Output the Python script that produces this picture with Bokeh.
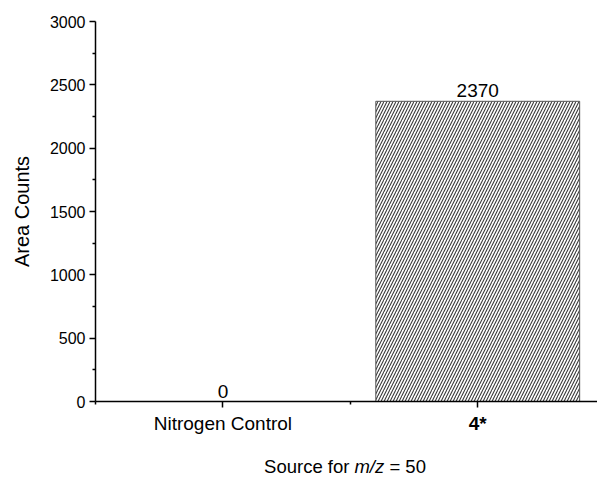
from bokeh.plotting import figure
from bokeh.layouts import column
from bokeh.models import Range1d, FixedTicker, ColumnDataSource
from bokeh.core.properties import value
from bokeh.embed import file_html
from bokeh.resources import INLINE

# data
categories = ["Nitrogen Control", "4*"]
category_styles = ["normal", "bold"]
positions = [1, 2]
area_counts = [0, 2370]
y_ticks = [0, 500, 1000, 1500, 2000, 2500, 3000]
y_minor = [250, 750, 1250, 1750, 2250, 2750]

FONT = "Liberation Sans"
xr = Range1d(0.5, 2.47)

p = figure(width=597, height=410, output_backend="svg", toolbar_location=None,
           x_range=xr, y_range=Range1d(0, 3000),
           min_border_left=95, min_border_right=0, min_border_top=21,
           min_border_bottom=9)
p.outline_line_color = None
p.xgrid.visible = False
p.ygrid.visible = False

src = ColumnDataSource(dict(x=positions, top=area_counts,
                            lbl=[str(v) for v in area_counts]))
p.vbar(x="x", top="top", width=0.8, source=src, fill_color="white",
       line_color="#555555", line_width=1,
       hatch_pattern="/", hatch_color="#3a3a3a", hatch_scale=6,
       hatch_weight=1.1)
p.text(x="x", y="top", text="lbl", source=src, text_align="center",
       text_baseline="bottom", y_offset=-4,
       text_font=value(FONT), text_font_size="19px", text_color="black")

# y axis
ya = p.yaxis[0]
ya.ticker = FixedTicker(ticks=y_ticks, minor_ticks=y_minor)
ya.major_label_text_font = FONT
ya.major_label_text_font_size = "16px"
ya.major_label_text_color = "black"
ya.axis_line_color = "black"
ya.axis_line_width = 1.5
ya.major_tick_line_width = 1.5
ya.minor_tick_line_width = 1.5
ya.major_tick_in = 0
ya.major_tick_out = 6
ya.minor_tick_in = 0
ya.minor_tick_out = 3
ya.major_label_standoff = 4
ya.axis_label = "Area Counts"
ya.axis_label_text_font = FONT
ya.axis_label_text_font_size = "20px"
ya.axis_label_text_font_style = "normal"
ya.axis_label_text_color = "black"
ya.axis_label_standoff = 14

# x axis (labels drawn in the panel below)
xa = p.xaxis[0]
xa.ticker = FixedTicker(ticks=positions, minor_ticks=[0.5, 1.5, 2.5])
xa.major_label_overrides = {1: "", 2: ""}
xa.major_label_standoff = 0
xa.axis_line_color = "black"
xa.axis_line_width = 1.5
xa.major_tick_line_width = 1.5
xa.minor_tick_line_width = 1.5
xa.major_tick_in = 0
xa.major_tick_out = 6
xa.minor_tick_in = 0
xa.minor_tick_out = 3

# lower panel with category names and axis title
b = figure(width=597, height=67, output_backend="svg", toolbar_location=None,
           x_range=xr, y_range=Range1d(0, 67),
           min_border_left=95, min_border_right=0, min_border_top=0,
           min_border_bottom=0)
b.axis.visible = False
b.grid.visible = False
b.outline_line_color = None

csrc = ColumnDataSource(dict(x=positions, y=[54, 54], t=categories,
                             s=category_styles))
b.text(x="x", y="y", text="t", source=csrc, text_align="center",
       text_baseline="middle", text_font=value(FONT),
       text_font_size="19px", text_font_style="s", text_color="black")

tx = 1.516
ty = 11
b.text(x=[tx], y=[ty], text=["Source for"], text_align="right", x_offset=-5,
       text_baseline="middle", text_font=value(FONT),
       text_font_size="18.5px", text_color="black")
b.text(x=[tx], y=[ty], text=["m/z"], text_align="left",
       text_baseline="middle", text_font=value(FONT),
       text_font_size="18.5px", text_font_style="italic", text_color="black")
b.text(x=[tx], y=[ty], text=["= 50"], text_align="left", x_offset=35,
       text_baseline="middle", text_font=value(FONT),
       text_font_size="18.5px", text_color="black")

layout = column(p, b, spacing=0)
open("out.html", "w").write(file_html(layout, INLINE))
